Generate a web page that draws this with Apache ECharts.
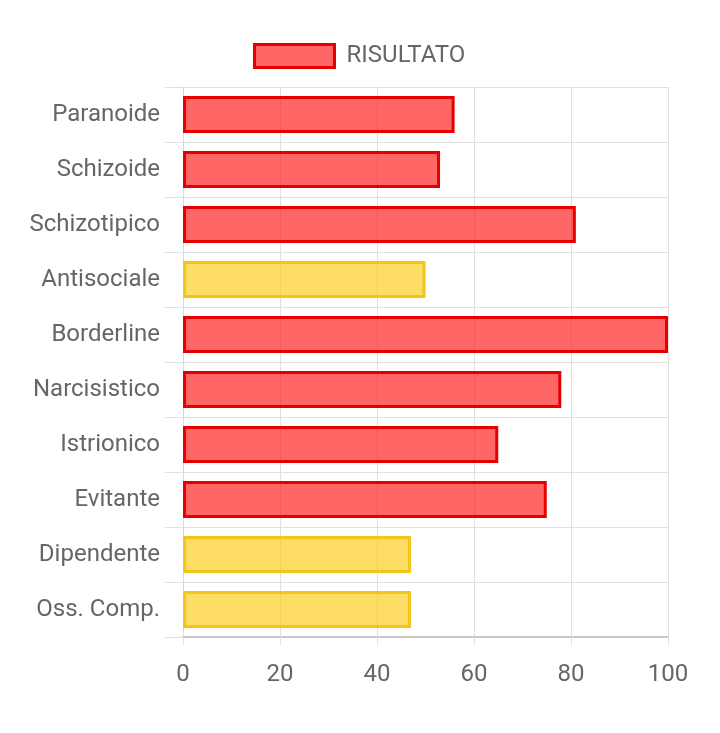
<!DOCTYPE html>
<html><head><meta charset="utf-8">
<script src="https://cdn.jsdelivr.net/npm/echarts@6/dist/echarts.min.js"></script>
<style>html,body{margin:0;padding:0;background:#fff}#c{width:720px;height:733px}</style>
</head><body><div id="c"></div>
<script>
const categories = ['Paranoide','Schizoide','Schizotipico','Antisociale','Borderline','Narcisistico','Istrionico','Evitante','Dipendente','Oss. Comp.'];
const values = [56, 53, 81, 50, 100, 78, 65, 75, 47, 47];
const levels = ['high','high','high','mid','high','high','high','high','mid','mid'];
const xTicks = [0, 20, 40, 60, 80, 100];
const seriesName = 'RISULTATO';

const styles = {
  high: {color: 'rgba(255,0,0,0.6)', borderColor: '#E80000'},
  mid: {color: 'rgba(253,200,10,0.62)', borderColor: '#F4C419'}
};
const chart = echarts.init(document.getElementById('c'), null, {renderer: 'canvas'});
chart.setOption({
  animation: false,
  textStyle: {fontFamily: 'Roboto'},
  legend: {
    top: 38, left: 248, padding: 5, icon: 'rect', itemWidth: 80, itemHeight: 23, itemGap: 12,
    textStyle: {fontSize: 24, color: '#666', fontFamily: 'Roboto', padding: [2, 0, 0, 7]},
    data: [{name: seriesName, itemStyle: {color: 'rgba(255,0,0,0.6)', borderColor: '#E80000', borderWidth: 3}}]
  },
  grid: {left: 183, right: 52, top: 87, bottom: 96, containLabel: false},
  xAxis: {
    type: 'value', min: xTicks[0], max: xTicks[xTicks.length-1], interval: 20,
    axisLine: {show: true, lineStyle: {color: '#c8c8c8', width: 2}},
    axisTick: {show: true, length: 8, lineStyle: {color: '#e0e0e0'}},
    axisLabel: {fontSize: 24, color: '#666', margin: 26, fontFamily: 'Roboto'},
    splitLine: {show: true, lineStyle: {color: '#e0e0e0', width: 1}}
  },
  yAxis: {
    type: 'category', data: categories, inverse: true,
    axisLine: {show: true, lineStyle: {color: '#d8d8d8', width: 1}},
    axisTick: {show: true, length: 18, lineStyle: {color: '#e0e0e0'}},
    axisLabel: {fontSize: 24, color: '#666', margin: 23, fontFamily: 'Roboto', lineHeight: 26, verticalAlign: 'middle', padding: [4, 0, 0, 0]},
    splitLine: {show: true, lineStyle: {color: '#e0e0e0', width: 1}}
  },
  series: [{
    name: seriesName, type: 'bar', barCategoryGap: '33%',
    itemStyle: {color: 'rgba(255,0,0,0.6)', borderColor: '#E80000', borderWidth: 3},
    data: values.map((v, i) => ({value: v, itemStyle: {color: styles[levels[i]].color, borderColor: styles[levels[i]].borderColor, borderWidth: 3}}))
  }]
});
</script></body></html>
